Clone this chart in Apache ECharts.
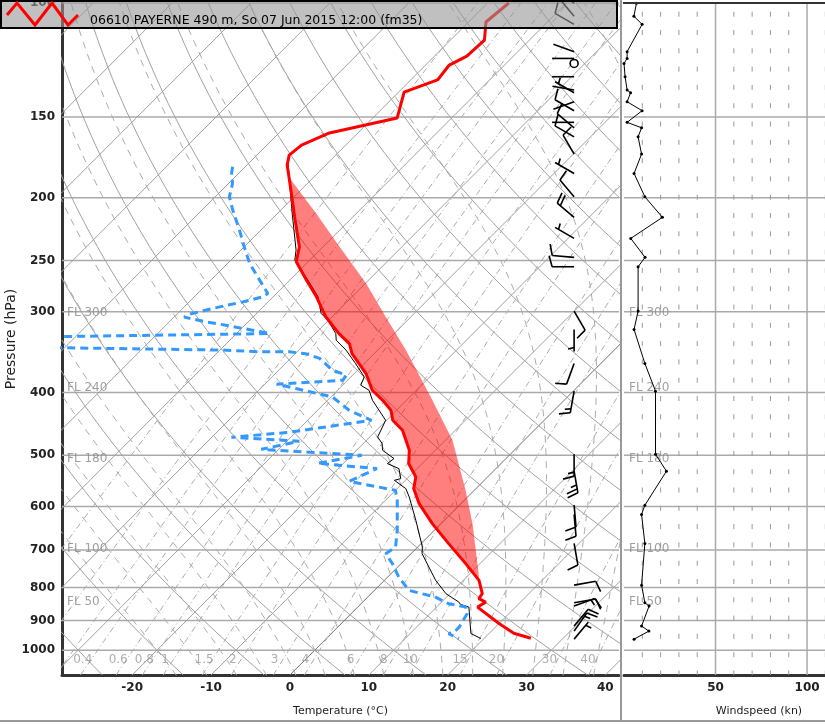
<!DOCTYPE html>
<html><head><meta charset="utf-8">
<script src="https://cdn.jsdelivr.net/npm/echarts@6/dist/echarts.min.js"></script>
<style>html,body{margin:0;padding:0;background:#fff}#c{width:825px;height:725px}</style>
</head><body><div id="c"></div><script>
// ---------------- data ----------------
const pressureTicks = [100,150,200,250,300,400,500,600,700,800,900,1000];
const tempTicks = [-20,-10,0,10,20,30,40];
const windTicks = [50,100];
const flLevels = [300,240,180,100,50];
const mixLabels = [0.4,0.6,0.8,1,1.5,2,3,4,6,8,10,15,20,30,40];

const tempP = [100.0,107.0,114.1,120.8,124.7,131.5,137.3,150.6,158.8,165.8,171.8,178.0,187.8,214.0,238.1,251.1,268.0,284.5,305.4,324.2,336.0,348.2,373.8,396.7,411.1,425.9,441.4,457.3,491.1,514.9,540.0,562.8,593.8,637.6,684.6,735.1,780.1,818.1,832.8,842.9,858.0,909.6,941.6,958.5];
const tempT = [-57.3,-57.8,-55.7,-55.9,-57.0,-56.6,-59.3,-56.9,-63.6,-65.6,-65.9,-64.9,-62.7,-57.4,-53.0,-51.5,-47.9,-44.5,-40.8,-37.0,-34.4,-32.8,-28.5,-25.6,-23.0,-20.7,-19.2,-16.7,-13.3,-11.7,-9.1,-7.9,-5.3,-1.1,3.5,8.2,12.0,14.1,14.3,15.6,15.2,20.0,23.1,25.9];

const dewP = [179.1,183.3,190.0,199.3,208.9,224.4,238.1,252.6,264.9,281.1,284.5,289.6,294.8,302.5,305.8,311.0,314.7,320.3,324.2,329.6,339.1,343.9,346.0,346.0,348.2,354.2,369.3,376.0,382.7,388.2,394.2,406.3,425.9,441.4,460.6,468.9,475.6,489.4,499.9,514.4,524.2,548.5,566.3,586.8,652.9,692.9,709.4,735.1,771.0,808.6,828.1,847.7,858.0,877.7,920.7,937.3,943.4,959.5];
const dewT = [-71.6,-70.9,-69.5,-68.2,-66.1,-62.7,-60.0,-57.2,-54.5,-51.1,-51.3,-53.2,-55.5,-58.4,-58.7,-55.3,-52.4,-48.4,-45.8,-85.7,-84.7,-49.2,-44.8,-41.0,-38.7,-36.3,-33.2,-30.8,-30.6,-38.5,-35.5,-29.8,-26.0,-21.9,-30.8,-37.5,-28.4,-32.2,-18.7,-23.3,-15.1,-17.0,-10.0,-8.5,-4.7,-2.8,-3.2,-1.1,1.4,4.4,8.6,11.1,13.7,14.7,15.4,15.4,14.9,16.8];

const wetP = [176.9,187.8,212.7,240.9,249.6,270.9,284.5,301.8,309.1,324.2,332.0,343.9,360.7,378.3,389.6,396.7,411.1,441.4,468.4,479.5,491.1,505.8,514.9,524.2,543.2,546.5,562.8,579.9,630.2,692.9,709.4,780.1,818.1,842.9,849.8,858.0,942.6,959.5];
const wetT = [-65.0,-62.7,-57.9,-53.0,-51.9,-47.1,-44.3,-41.8,-40.1,-37.4,-36.5,-34.0,-31.1,-28.3,-27.7,-26.0,-24.3,-20.1,-19.0,-17.6,-16.7,-14.2,-14.4,-12.3,-10.8,-11.4,-8.9,-7.4,-3.6,0.6,1.4,6.5,9.5,12.2,12.7,14.1,17.7,19.6];

const parcelP = [780.1,761.7,637.6,566.3,473.9,411.1,343.9,305.4,271.2,238.1,211.4,187.8];
const parcelT = [12.0,11.1,4.0,-1.1,-9.1,-16.7,-26.4,-33.2,-39.9,-47.9,-55.1,-62.5];

const windP = [100.1,104.8,107.9,118.9,121.8,124.0,130.0,136.3,137.6,142.1,146.7,152.9,155.9,161.0,171.2,183.4,199.3,214.4,231.1,247.2,255.6,299.3,319.5,360.6,397.9,497.9,529.0,597.0,617.0,684.0,793.5,845.0,855.0,918.0,934.5,961.6];
const windS = [6.8,5.4,9.9,1.7,1.7,0,0.6,1.7,3.6,1.7,9.9,1.7,9.6,7.7,9.6,5.5,11.4,21.0,3.7,11.5,7.7,7.7,5.5,11.4,17.2,17.2,23.2,11.4,9.6,11.4,9.6,11.4,13.7,9.6,13.6,5.5];
const windD = [310,320,300,290,270,0,270,280,300,250,300,270,310,300,330,300,320,310,300,275,270,150,180,200,190,180,170,175,175,170,80,80,70,40,35,40];

// ---------------- geometry helpers ----------------
const PB = 1092.5, PT = 100;
const PXC = 7.9;
const K = 281.04 / PXC;           // 45 degree skew
const XMIN = -28.9, XMAX = 41.73;
const sk = (T, p) => T + K * Math.log(PB / p);
const BARB_X = XMIN + (575 - 62) / PXC;

function logPs(n) { const a = []; for (let i = 0; i <= n; i++) a.push(PB * Math.pow(PT / PB, i / n)); return a; }
const PS = logPs(80);

const bg = [];
function addLine(pts, color, width, type, z) {
  bg.push({type:'line', xAxisIndex:0, yAxisIndex:0, data:pts, symbol:'none', silent:true, clip:true, z:z||1,
    lineStyle:{color:color, width:width, type:type||'solid'}, animation:false});
}
pressureTicks.forEach(p => addLine([[XMIN,p],[XMAX,p]], '#aaa', 1.5));
for (let T = -140; T <= 40; T += 10) addLine([[sk(T,PB),PB],[sk(T,PT),PT]], T === 0 ? '#707070' : '#a0a0a0', 1);
for (let th = 223.15; th <= 503.15; th += 10) addLine(PS.map(p => [sk(th*Math.pow(p/1000,0.2857)-273.15,p),p]), '#a0a0a0', 1);
function tdW(w, p) { const e = w*p/(622+w); const l = Math.log(e/6.112); return 243.5*l/(17.67-l); }
[0.1,0.2,0.3,0.4,0.6,0.8,1,1.5,2,3,4,6,8,10,15,20,30,40].forEach(w => addLine(PS.map(p => [sk(tdW(w,p),p),p]), '#aaa', 1, [6,3,1,3]));
function dTdp(T, p) {
  const es = 6.112*Math.exp(17.67*(T-273.15)/(T-29.65));
  const rs = 0.622*es/(p-es);
  return (287.04*T + 2.501e6*rs)/(p*(1005.7 + 2.501e6*2.501e6*rs*0.622/(287.04*T*T)));
}
for (let tw = -20; tw <= 40; tw += 4) {
  const pts = [];
  let T = tw + 273.15, p = 1000;
  let T2 = T, p2 = p; const low = [];
  while (p2 < PB) { const dp = 5; const k1 = dTdp(T2,p2); const k2 = dTdp(T2+k1*dp,p2+dp); T2 += dp*(k1+k2)/2; p2 += dp; low.push([sk(T2-273.15,p2),p2]); }
  low.reverse().forEach(q => pts.push(q));
  pts.push([sk(T-273.15,p),p]);
  while (p > PT) { const dp = -5; const k1 = dTdp(T,p); const k2 = dTdp(T+k1*dp,p+dp); T += dp*(k1+k2)/2; p += dp; pts.push([sk(T-273.15,p),p]); }
  addLine(pts, '#aaa', 1, [7,6]);
}

const windBg = [];
pressureTicks.forEach(p => windBg.push({type:'line', xAxisIndex:1, yAxisIndex:1, data:[[0,p],[147.5,p]], symbol:'none', silent:true, z:1, lineStyle:{color:'#aaa', width:1.5}}));
[10,20,30,40,60,70,80,90,110,120,130,140].forEach(v => windBg.push({type:'line', xAxisIndex:1, yAxisIndex:1, data:[[v,PT],[v,PB]], symbol:'none', silent:true, z:1, lineStyle:{color:'#999', width:1, type:[5,13.3], dashOffset:9.6}}));
[50,100].forEach(v => windBg.push({type:'line', xAxisIndex:1, yAxisIndex:1, data:[[v,PT],[v,PB]], symbol:'none', silent:true, z:1, lineStyle:{color:'#aaa', width:1.5}}));

const flP = f => 1013.25*Math.pow(1-0.0065*f*30.48/288.15, 5.2559);
const flLabelStyle = {show:true, position:'right', distance:5, color:'#888', fontSize:12, fontFamily:'DejaVu Sans', formatter: prm => 'FL ' + prm.data[2]};

function renderBarb(params, api) {
  const c = api.coord([api.value(0), api.value(1)]);
  const spd = api.value(2), dir = api.value(3);
  const st = {stroke:'#000', lineWidth:1.6, fill:null};
  if (spd < 0.5) return {type:'circle', shape:{cx:c[0], cy:c[1], r:4}, style:st};
  const r = dir*Math.PI/180, ux = Math.sin(r), uy = -Math.cos(r);
  const L = 22, ex = c[0]+ux*L, ey = c[1]+uy*L;
  const px = -uy, py = ux;
  const ch = [{type:'line', shape:{x1:c[0], y1:c[1], x2:ex, y2:ey}, style:st}];
  let s = Math.round(spd/5)*5, pos = 0;
  while (s >= 50) { const bx = ex-ux*pos, by = ey-uy*pos;
    ch.push({type:'polygon', shape:{points:[[bx,by],[bx-ux*6,by-uy*6],[bx+px*11,by+py*11]]}, style:{fill:'#000'}}); s -= 50; pos += 7; }
  while (s >= 10) { const bx = ex-ux*pos, by = ey-uy*pos;
    ch.push({type:'line', shape:{x1:bx, y1:by, x2:bx+px*11+ux*3, y2:by+py*11+uy*3}, style:st}); s -= 10; pos += 4; }
  if (s >= 5) { if (pos === 0) pos = 4; const bx = ex-ux*pos, by = ey-uy*pos;
    ch.push({type:'line', shape:{x1:bx, y1:by, x2:bx+px*6+ux*1.5, y2:by+py*6+uy*1.5}, style:st}); }
  return {type:'group', children:ch};
}

function renderCape(params, api) {
  const pts = [];
  for (let i = 0; i < parcelP.length; i++) pts.push(api.coord([sk(parcelT[i],parcelP[i]), parcelP[i]]));
  for (let i = 0; i < tempP.length; i++) {
    if (tempP[i] >= parcelP[parcelP.length-1] && tempP[i] <= parcelP[0]) pts.push(api.coord([sk(tempT[i],tempP[i]), tempP[i]]));
  }
  return {type:'polygon', shape:{points:pts}, style:{fill:'rgba(255,0,0,0.5)'}};
}

const series = bg.concat(windBg).concat([
  {type:'custom', xAxisIndex:0, yAxisIndex:0, renderItem:renderCape, data:[[0,500]], z:2, silent:true},
  {type:'line', xAxisIndex:0, yAxisIndex:0, data:wetP.map((p,i)=>[sk(wetT[i],p),p]), symbol:'none', z:3, lineStyle:{color:'#000', width:1}},
  {type:'line', xAxisIndex:0, yAxisIndex:0, data:dewP.map((p,i)=>[sk(dewT[i],p),p]), symbol:'none', z:4, clip:true, lineStyle:{color:'#3399ff', width:3, type:[8,5]}},
  {type:'line', xAxisIndex:0, yAxisIndex:0, data:tempP.map((p,i)=>[sk(tempT[i],p),p]), symbol:'none', z:5, lineStyle:{color:'#ff0000', width:3}},
  {type:'custom', xAxisIndex:0, yAxisIndex:0, renderItem:renderBarb, encode:{x:0,y:1}, data:windP.map((p,i)=>[BARB_X,p,windS[i],windD[i]]), z:6},
  {type:'line', xAxisIndex:1, yAxisIndex:1, data:windP.map((p,i)=>[windS[i],p]), symbol:'circle', symbolSize:3, z:5, itemStyle:{color:'#000'}, lineStyle:{color:'#000', width:1}},
  {type:'scatter', xAxisIndex:0, yAxisIndex:0, symbolSize:0, z:3, data:flLevels.map(f=>[XMIN,flP(f),f]), label:flLabelStyle},
  {type:'scatter', xAxisIndex:1, yAxisIndex:1, symbolSize:0, z:3, data:flLevels.map(f=>[0,flP(f),f]), label:flLabelStyle},
  {type:'scatter', xAxisIndex:0, yAxisIndex:0, symbolSize:0, z:3, data:mixLabels.map(w=>[sk(tdW(w,1036),1036),1036,w]),
    label:{show:true, position:'inside', offset:[-8,0], color:'#999', fontSize:12, fontFamily:'DejaVu Sans', formatter: prm => String(prm.data[2])}}
]);

const bold = {fontFamily:'DejaVu Sans', fontWeight:'bold', fontSize:12, color:'#222'};
const option = {
  animation:false,
  backgroundColor:'#fff',
  grid:[{left:62, top:3, width:557, height:672, outerBoundsMode:'none', containLabel:false},
        {left:624, top:3, width:270, height:672, outerBoundsMode:'none', containLabel:false}],
  xAxis:[
    {gridIndex:0, type:'value', min:XMIN, max:XMAX, axisLine:{show:true, onZero:false, lineStyle:{color:'#333', width:3}}, axisTick:{show:false}, splitLine:{show:false},
     axisLabel:Object.assign({customValues:tempTicks, margin:7, formatter: v => String(v)}, bold),
     name:'Temperature (°C)', nameLocation:'middle', nameGap:31, nameMoveOverlap:false, nameTextStyle:{fontFamily:'DejaVu Sans', fontSize:11, color:'#222'}},
    {gridIndex:1, type:'value', min:0, max:147.5, axisLine:{show:true, onZero:false, lineStyle:{color:'#333', width:3}}, axisTick:{show:false}, splitLine:{show:false},
     axisLabel:Object.assign({customValues:windTicks, margin:7, formatter: v => String(v)}, bold),
     name:'Windspeed (kn)', nameLocation:'middle', nameGap:31, nameMoveOverlap:false, nameTextStyle:{fontFamily:'DejaVu Sans', fontSize:11, color:'#222'}}
  ],
  yAxis:[
    {gridIndex:0, type:'log', logBase:10, min:PT, max:PB, inverse:true, axisLine:{show:true, onZero:false, lineStyle:{color:'#333', width:3}}, axisTick:{show:false}, splitLine:{show:false},
     axisLabel:Object.assign({customValues:pressureTicks, margin:7, formatter: v => String(Math.round(v))}, bold),
     name:'Pressure (hPa)', nameLocation:'middle', nameGap:44, nameRotate:90, nameMoveOverlap:false, nameTextStyle:{fontFamily:'DejaVu Sans', fontSize:14, color:'#222'}},
    {gridIndex:1, type:'log', logBase:10, min:PT, max:PB, inverse:true, axisLine:{show:false}, axisTick:{show:false}, splitLine:{show:false}, axisLabel:{show:false}}
  ],
  graphic:[
    {type:'line', z:50, shape:{x1:621, y1:0, x2:621, y2:722}, style:{stroke:'#999', lineWidth:2}},
    {type:'line', z:50, shape:{x1:0, y1:721, x2:825, y2:721}, style:{stroke:'#999', lineWidth:2}},
    {type:'line', z:50, shape:{x1:623, y1:3, x2:825, y2:3}, style:{stroke:'#333', lineWidth:2}},
    {type:'rect', z:100, shape:{x:1, y:1, width:616, height:27}, style:{fill:'rgba(150,150,150,0.6)', stroke:'#000', lineWidth:2}},
    {type:'polyline', z:101, shape:{points:[[7,15],[17,3],[35,25],[52,3],[68,25],[78,15]]}, style:{stroke:'#ff0000', lineWidth:3, fill:null}},
    {type:'text', z:101, x:90, y:21, style:{text:'06610 PAYERNE 490 m, So 07 Jun 2015 12:00 (fm35)', fill:'#000', font:'12.5px "DejaVu Sans"', verticalAlign:'middle'}}
  ],
  series:series
};
const chart = echarts.init(document.getElementById('c'), null, {renderer:'canvas', width:825, height:725});
chart.setOption(option);
</script></body></html>
